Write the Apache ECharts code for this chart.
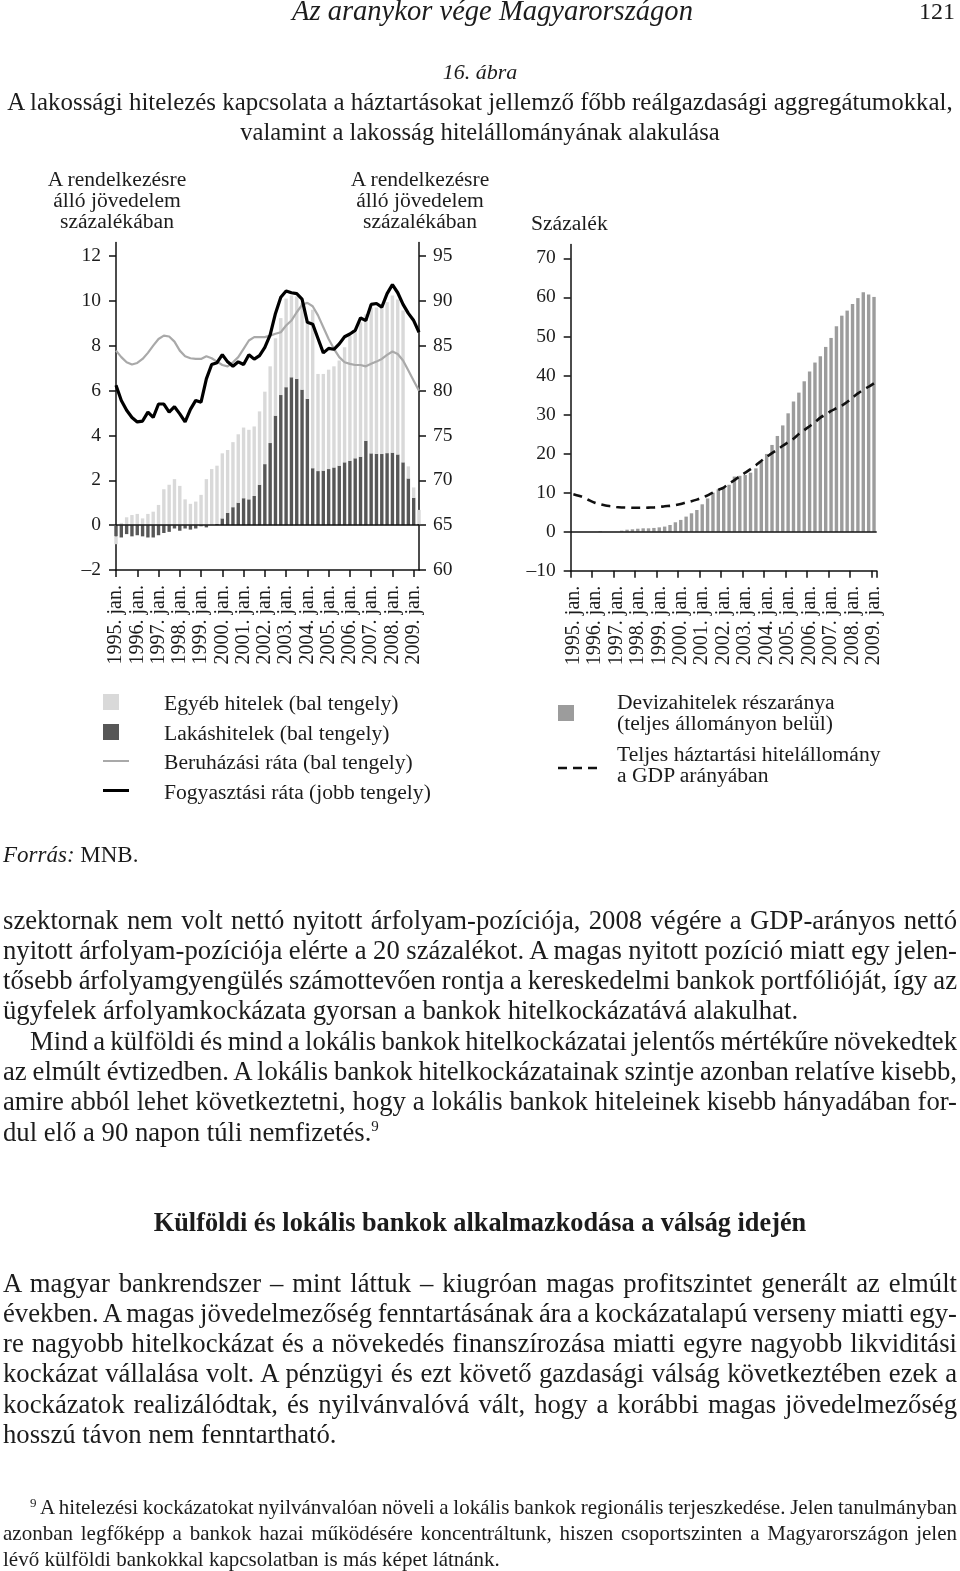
<!DOCTYPE html>
<html><head><meta charset="utf-8">
<script src="https://cdn.jsdelivr.net/npm/echarts@6/dist/echarts.min.js"></script>
<style>
html,body{margin:0;padding:0;background:#fff;}
body{width:960px;height:1571px;position:relative;overflow:hidden;font-family:'Liberation Serif','Times New Roman',serif;color:#1c1c1c;}
#chart{position:absolute;left:0;top:0;width:960px;height:1571px;z-index:0;}
.t{position:absolute;white-space:nowrap;z-index:2;}
.c{text-align:center;}
.it{font-style:italic;}
.jl{position:absolute;white-space:nowrap;z-index:2;font-size:26.7px;line-height:30px;}
.fn{font-size:21px;line-height:26px;}
.sw{position:absolute;z-index:2;}
.lg{font-size:21.6px;}
</style>
</head><body>
<div id="chart"></div>

<!-- header -->
<div class="t it fit" data-w="401" style="left:292px;top:-4px;font-size:28px;line-height:30px;">Az aranykor vége Magyarországon</div>
<div class="t" style="right:5px;top:-4px;font-size:24px;line-height:30px;">121</div>

<!-- title -->
<div class="t it c" style="left:0;width:960px;top:57px;font-size:22px;line-height:30px;">16. ábra</div>
<div class="t c" style="left:0;width:960px;top:87px;font-size:24.9px;line-height:30px;">A lakossági hitelezés kapcsolata a háztartásokat jellemző főbb reálgazdasági aggregátumokkal,</div>
<div class="t c" style="left:0;width:960px;top:117px;font-size:24.6px;line-height:30px;">valamint a lakosság hitelállományának alakulása</div>

<!-- axis titles -->
<div class="t c lg" style="left:17px;width:200px;top:169px;line-height:21px;">A rendelkezésre<br>álló jövedelem<br>százalékában</div>
<div class="t c lg" style="left:320px;width:200px;top:169px;line-height:21px;">A rendelkezésre<br>álló jövedelem<br>százalékában</div>
<div class="t lg" style="left:531px;top:213px;line-height:21px;">Százalék</div>

<!-- legends left -->
<div class="sw" style="left:103px;top:694px;width:16px;height:16px;background:#d9d9d9;"></div>
<div class="sw" style="left:103px;top:724px;width:16px;height:16px;background:#575757;"></div>
<div class="sw" style="left:103px;top:760px;width:26px;height:2px;background:#a9a9a9;"></div>
<div class="sw" style="left:103px;top:789px;width:26px;height:3px;background:#000;"></div>
<div class="t lg" style="left:164px;top:691px;line-height:24px;">Egyéb hitelek (bal tengely)</div>
<div class="t lg" style="left:164px;top:721px;line-height:24px;">Lakáshitelek (bal tengely)</div>
<div class="t lg" style="left:164px;top:750px;line-height:24px;">Beruházási ráta (bal tengely)</div>
<div class="t lg" style="left:164px;top:780px;line-height:24px;">Fogyasztási ráta (jobb tengely)</div>

<!-- legends right -->
<div class="sw" style="left:558px;top:705px;width:16px;height:16px;background:#9c9c9c;"></div>
<svg class="sw" style="left:556px;top:762px;" width="46" height="12"><line x1="2" y1="6" x2="44" y2="6" stroke="#111" stroke-width="2.5" stroke-dasharray="9,6"/></svg>
<div class="t lg" style="left:617px;top:692px;line-height:21px;">Devizahitelek részaránya<br>(teljes állományon belül)</div>
<div class="t lg" style="left:617px;top:744px;line-height:21px;">Teljes háztartási hitelállomány<br>a GDP arányában</div>

<!-- source -->
<div class="t" style="left:3px;top:840px;font-size:23px;line-height:30px;"><span class="it">Forrás:</span> MNB.</div>

<!-- body text -->
<div class="jl" data-w="954" style="left:3px;top:905px;"><span>szektornak nem volt nettó nyitott árfolyam-pozíciója, 2008 végére a GDP-arányos nettó</span></div>
<div class="jl" data-w="954" style="left:3px;top:935px;"><span>nyitott árfolyam-pozíciója elérte a 20 százalékot. A magas nyitott pozíció miatt egy jelen-</span></div>
<div class="jl" data-w="954" style="left:3px;top:965px;"><span>tősebb árfolyamgyengülés számottevően rontja a kereskedelmi bankok portfólióját, így az</span></div>
<div class="jl" style="left:3px;top:995px;"><span>ügyfelek árfolyamkockázata gyorsan a bankok hitelkockázatává alakulhat.</span></div>
<div class="jl" data-w="927" style="left:30px;top:1026px;"><span>Mind a külföldi és mind a lokális bankok hitelkockázatai jelentős mértékűre növekedtek</span></div>
<div class="jl" data-w="954" style="left:3px;top:1056px;"><span>az elmúlt évtizedben. A lokális bankok hitelkockázatainak szintje azonban relatíve kisebb,</span></div>
<div class="jl" data-w="954" style="left:3px;top:1086px;"><span>amire abból lehet következtetni, hogy a lokális bankok hiteleinek kisebb hányadában for-</span></div>
<div class="jl" style="left:3px;top:1117px;"><span>dul elő a 90 napon túli nemfizetés.<span style="font-size:15px;position:relative;top:-10px;">9</span></span></div>

<div class="jl c" style="left:0;width:960px;top:1208px;font-weight:bold;font-size:26.3px;"><span>Külföldi és lokális bankok alkalmazkodása a válság idején</span></div>

<div class="jl" data-w="954" style="left:3px;top:1268px;"><span>A magyar bankrendszer – mint láttuk – kiugróan magas profitszintet generált az elmúlt</span></div>
<div class="jl" data-w="954" style="left:3px;top:1298px;"><span>években. A magas jövedelmezőség fenntartásának ára a kockázatalapú verseny miatti egy-</span></div>
<div class="jl" data-w="954" style="left:3px;top:1328px;"><span>re nagyobb hitelkockázat és a növekedés finanszírozása miatti egyre nagyobb likviditási</span></div>
<div class="jl" data-w="954" style="left:3px;top:1358px;"><span>kockázat vállalása volt. A pénzügyi és ezt követő gazdasági válság következtében ezek a</span></div>
<div class="jl" data-w="954" style="left:3px;top:1389px;"><span>kockázatok realizálódtak, és nyilvánvalóvá vált, hogy a korábbi magas jövedelmezőség</span></div>
<div class="jl" style="left:3px;top:1419px;"><span>hosszú távon nem fenntartható.</span></div>

<!-- footnote -->
<div class="jl fn" data-w="927" style="left:30px;top:1494px;"><span><span style="font-size:13px;position:relative;top:-7px;">9</span> A hitelezési kockázatokat nyilvánvalóan növeli a lokális bankok regionális terjeszkedése. Jelen tanulmányban</span></div>
<div class="jl fn" data-w="954" style="left:3px;top:1520px;"><span>azonban legfőképp a bankok hazai működésére koncentráltunk, hiszen csoportszinten a Magyarországon jelen</span></div>
<div class="jl fn" style="left:3px;top:1546px;"><span>lévő külföldi bankokkal kapcsolatban is más képet látnánk.</span></div>

<script>
// ---------- DATA ----------
const years = ['1995','1996','1997','1998','1999','2000','2001','2002','2003','2004','2005','2006','2007','2008','2009'];
const months = ['jan.','ápr.','júl.','okt.'];

// left panel: 1995 Q1 .. 2009 Q2 (58 quarters)
const lakashitelek = [-0.5,-0.55,-0.4,-0.5,-0.45,-0.5,-0.55,-0.55,-0.45,-0.35,
  -0.3,-0.15,-0.25,-0.15,-0.2,-0.15,-0.05,-0.1,0,0.05,
  0.3,0.55,0.8,1.0,1.2,1.15,1.3,1.8,2.72,3.66,
  4.88,5.8,6.15,6.59,6.52,6.04,5.63,2.54,2.41,2.43,
  2.5,2.57,2.65,2.8,2.87,2.98,3.05,3.76,3.2,3.18,
  3.17,3.21,3.23,3.15,2.8,2.08,1.22,0.05];
const egyebHitelek = [-0.35,0.1,0.35,0.45,0.5,0.3,0.5,0.6,0.9,1.6,
  1.8,2.05,1.75,1.15,0.95,1.05,1.35,2.05,2.5,2.6,
  2.9,2.8,2.9,3.05,3.15,3.1,3.1,3.27,3.23,3.42,
  3.45,3.43,3.95,3.65,3.68,3.86,3.42,7.06,4.33,4.31,
  4.43,4.51,4.69,5.13,5.58,5.62,6.0,5.64,6.5,6.52,
  6.53,6.73,7.01,6.91,6.77,0.54,0.46,0.63];
const beruhazasiRata = [7.78,7.49,7.26,7.16,7.23,7.41,7.68,8.0,8.3,8.45,
  8.41,8.18,7.78,7.53,7.44,7.41,7.41,7.53,7.44,7.29,
  7.14,7.08,7.26,7.49,7.86,8.23,8.38,8.38,8.38,8.45,
  8.53,8.6,8.9,9.12,9.49,9.82,9.91,9.76,9.35,8.82,
  8.3,7.86,7.49,7.26,7.19,7.14,7.14,7.08,7.19,7.29,
  7.41,7.59,7.74,7.63,7.34,6.89,6.44,5.99];
const fogyasztasiRata = [80.6,78.9,77.8,77.0,76.5,76.6,77.6,77.0,78.5,78.5,
  77.6,78.2,77.4,76.5,77.9,78.9,78.7,81.3,82.9,83.1,
  84.0,83.2,82.7,83.2,82.9,84.0,83.5,83.9,84.8,86.2,
  88.6,90.4,91.1,90.9,90.8,90.2,87.6,87.4,85.8,84.2,
  84.7,84.6,85.2,86.0,86.3,86.7,88.1,87.8,89.6,89.7,
  89.3,90.8,91.8,90.9,89.6,88.6,87.8,86.5];

// right panel: 1995 Q1 .. 2009 Q1 (57 quarters)
const devizaReszarany = [0,0,0,0,0,0.15,0,0,0,0.25,
  0.5,0.6,0.75,0.85,0.85,0.95,1.1,1.3,1.7,2.4,
  3.0,3.85,4.7,5.55,7.0,8.5,10.0,10.85,11.4,12.0,
  14.1,14.3,14.5,15.1,16.2,17.9,19.9,22.2,24.5,27.2,
  30.3,33.3,35.6,38.5,41.0,43.3,44.9,47.3,49.6,52.6,
  55.3,56.6,58.3,59.8,61.3,60.7,60.1];
const hitelallomanyGDP = [9.6,9.2,8.7,8.0,7.4,7.0,6.7,6.5,6.3,6.2,
  6.15,6.1,6.1,6.1,6.15,6.2,6.3,6.5,6.6,6.8,
  7.1,7.5,7.8,8.2,8.7,9.3,10.0,10.7,11.3,12.3,
  13.2,14.2,15.1,16.0,17.0,18.1,19.1,20.1,21.0,22.0,
  22.9,23.8,25.0,26.0,27.0,28.0,29.2,30.0,30.9,31.6,
  32.3,33.2,34.3,35.4,36.3,37.1,38.0];

const leftTicks = [-2,0,2,4,6,8,10,12];
const rightTicks = [60,65,70,75,80,85,90,95];
const pctTicks = [-10,0,10,20,30,40,50,60,70];

// ---------- BUILD ----------
function quarters(n){ const a=[]; for(let i=0;i<n;i++) a.push(years[Math.floor(i/4)]+'. '+months[i%4]); return a; }
const catLeft = quarters(lakashitelek.length);
const catRight = quarters(devizaReszarany.length);
const FONT = 'Liberation Serif';
const INK = '#1c1c1c';
const fmt = v => v < 0 ? '–' + Math.abs(v) : String(v);
const axLine = {show:true, onZero:false, lineStyle:{color:'#111', width:1.5}};
const axTick = {show:true, length:7, lineStyle:{color:'#111', width:1.5}};
const ylab = {color:INK, fontFamily:FONT, fontSize:19.5};
const xlab = {color:INK, fontFamily:FONT, fontSize:20};

const chart = echarts.init(document.getElementById('chart'), null, {renderer:'canvas'});
chart.setOption({
  animation:false,
  backgroundColor:'transparent',
  grid:[
    {left:116, top:242.5, width:303, height:327.5, outerBoundsMode:'none', containLabel:false},
    {left:570.7, top:244.6, width:306, height:326.1, outerBoundsMode:'none', containLabel:false}
  ],
  xAxis:[
    {type:'category', gridIndex:0, data:catLeft, boundaryGap:false, position:'bottom',
     axisLine:axLine, axisTick:Object.assign({}, axTick, {interval:3}),
     axisLabel:Object.assign({}, xlab, {interval:3, rotate:90, margin:15}),
     splitLine:{show:false}},
    {type:'category', gridIndex:1, data:catRight, boundaryGap:true, position:'bottom',
     axisLine:axLine, axisTick:Object.assign({}, axTick, {interval:3, alignWithLabel:false}),
     axisLabel:Object.assign({}, xlab, {interval:3, rotate:90, margin:15}),
     splitLine:{show:false}}
  ],
  yAxis:[
    {type:'value', gridIndex:0, min:-2, max:12.6, interval:2, position:'left',
     axisLine:axLine, axisTick:Object.assign({}, axTick, {customValues:leftTicks}),
     axisLabel:Object.assign({}, ylab, {customValues:leftTicks, margin:15, formatter:fmt}),
     splitLine:{show:false}},
    {type:'value', gridIndex:0, min:60, max:96.5, interval:5, position:'right',
     axisLine:axLine, axisTick:Object.assign({}, axTick, {customValues:rightTicks}),
     axisLabel:Object.assign({}, ylab, {customValues:rightTicks, margin:14, formatter:fmt}),
     splitLine:{show:false}},
    {type:'value', gridIndex:1, min:-10, max:73.5, interval:10, position:'left',
     axisLine:axLine, axisTick:Object.assign({}, axTick, {customValues:pctTicks}),
     axisLabel:Object.assign({}, ylab, {customValues:pctTicks, margin:15, formatter:fmt}),
     splitLine:{show:false}}
  ],
  series:[
    {name:'Lakáshitelek (bal tengely)', type:'bar', xAxisIndex:0, yAxisIndex:0, stack:'hitel',
     data:lakashitelek, barWidth:3.4, itemStyle:{color:'#575757'},
     markLine:{silent:true, symbol:'none', label:{show:false}, lineStyle:{color:'#111', width:1.5, type:'solid'}, data:[{yAxis:0}]}},
    {name:'Egyéb hitelek (bal tengely)', type:'bar', xAxisIndex:0, yAxisIndex:0, stack:'hitel',
     data:egyebHitelek, barWidth:3.4, itemStyle:{color:'#d9d9d9'}},
    {name:'Beruházási ráta (bal tengely)', type:'line', xAxisIndex:0, yAxisIndex:0,
     data:beruhazasiRata, showSymbol:false, symbol:'none', lineStyle:{color:'#a9a9a9', width:2.2}},
    {name:'Fogyasztási ráta (jobb tengely)', type:'line', xAxisIndex:0, yAxisIndex:1,
     data:fogyasztasiRata, showSymbol:false, symbol:'none', lineStyle:{color:'#000', width:3.2}},
    {name:'Devizahitelek részaránya', type:'bar', xAxisIndex:1, yAxisIndex:2,
     data:devizaReszarany, barWidth:3.4, itemStyle:{color:'#9c9c9c'},
     markLine:{silent:true, symbol:'none', label:{show:false}, lineStyle:{color:'#111', width:1.5, type:'solid'}, data:[{yAxis:0}]}},
    {name:'Teljes háztartási hitelállomány a GDP arányában', type:'line', xAxisIndex:1, yAxisIndex:2,
     data:hitelallomanyGDP, showSymbol:false, symbol:'none', smooth:0.3,
     lineStyle:{color:'#111', width:2.6, type:[9,6]}}
  ]
});

// ---------- text fitting ----------
document.querySelectorAll('.fit').forEach(el=>{
  const W = parseFloat(el.dataset.w);
  const fs = parseFloat(getComputedStyle(el).fontSize);
  const nat = el.getBoundingClientRect().width;
  if (nat > 0) el.style.fontSize = (fs * W / nat) + 'px';
});
document.querySelectorAll('.jl[data-w]').forEach(el=>{
  const W = parseFloat(el.dataset.w);
  const span = el.firstElementChild;
  const nat = span.getBoundingClientRect().width;
  const spaces = (span.textContent.match(/ /g)||[]).length;
  if (spaces) span.style.wordSpacing = ((W - nat) / spaces) + 'px';
});
</script>
</body></html>
